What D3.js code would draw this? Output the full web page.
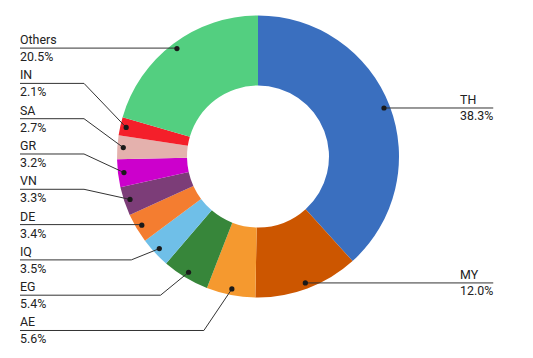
<!DOCTYPE html>
<html>
<head>
<meta charset="utf-8">
<script src="https://cdn.jsdelivr.net/npm/d3@7"></script>
<style>
  html, body { margin: 0; padding: 0; background: #fff; }
  svg { display: block; }
  text { font-family: Roboto, "Noto Sans", sans-serif; font-size: 12.4px; fill: #222; }
</style>
</head>
<body>
<svg id="chart" width="533" height="358"></svg>
<script>
// ---- data ----
const categories = ["TH", "MY", "AE", "EG", "IQ", "DE", "VN", "GR", "SA", "IN", "Others"];
const shares     = [38.3, 12.0, 5.6, 5.4, 3.5, 3.4, 3.3, 3.2, 2.7, 2.1, 20.5];
const valueLabels = ["38.3%", "12.0%", "5.6%", "5.4%", "3.5%", "3.4%", "3.3%", "3.2%", "2.7%", "2.1%", "20.5%"];
const colors = ["#3a6fbf", "#cc5600", "#f5992f", "#37863a", "#6fbfe8", "#f47d30",
                "#7c3d78", "#cc00cc", "#e4b1ad", "#f41f2a", "#53cf80"];

// ---- layout ----
const W = 533, H = 358;
const cx = 258, cy = 156.5, R = 141, r0 = 71, dotR = 135;
const gap = 35.3;

const svg = d3.select("#chart");
const g = svg.append("g").attr("transform", `translate(${cx},${cy})`);

const data = categories.map((c, i) => ({ name: c, value: shares[i], label: valueLabels[i], color: colors[i] }));
const pie = d3.pie().value(d => d.value).sort(null);
const arcs = pie(data);
const arc = d3.arc().innerRadius(r0).outerRadius(R);

g.selectAll("path.slice").data(arcs).join("path")
  .attr("class", "slice")
  .attr("d", arc)
  .attr("fill", d => d.data.color);

// dot positions
arcs.forEach(a => {
  const m = (a.startAngle + a.endAngle) / 2;
  a.dx = cx + Math.sin(m) * dotR;
  a.dy = cy - Math.cos(m) * dotR;
  a.side = Math.sin(m) >= 0 ? "right" : "left";
  a.ly = a.dy;
});

// label de-overlap per side (cluster merging)
function relax(items) {
  items.sort((a, b) => a.dy - b.dy);
  let clusters = items.map(it => ({ items: [it] }));
  const place = c => {
    const mean = d3.mean(c.items, d => d.dy);
    c.top = mean - (c.items.length - 1) * gap / 2 - (c.items.length > 1 ? 3 : 0);
  };
  clusters.forEach(place);
  let merged = true;
  while (merged) {
    merged = false;
    for (let i = 0; i < clusters.length - 1; i++) {
      const a = clusters[i], b = clusters[i + 1];
      if (a.top + (a.items.length - 1) * gap + gap > b.top) {
        const c = { items: a.items.concat(b.items) };
        place(c);
        clusters.splice(i, 2, c);
        merged = true;
        break;
      }
    }
  }
  clusters.forEach(c => c.items.forEach((it, k) => it.ly = c.top + k * gap));
}
relax(arcs.filter(a => a.side === "left"));
relax(arcs.filter(a => a.side === "right"));

const leftX = 20, rightX = 460, minElbow = 84;

const lab = svg.append("g");
arcs.forEach(a => {
  const grp = lab.append("g");
  if (a.side === "left") {
    let ex = (a.ly < a.dy - 10) ? minElbow : a.dx - 28;
    if (Math.abs(a.ly - a.dy) < 2) ex = a.dx;
    grp.append("path")
      .attr("d", `M${leftX},${a.ly}H${ex}L${a.dx},${a.dy}`)
      .attr("fill", "none").attr("stroke", "#333").attr("stroke-width", 1);
    grp.append("text").attr("x", leftX).attr("y", a.ly - 4).text(a.data.name);
    grp.append("text").attr("x", leftX).attr("y", a.ly + 13).text(a.data.label);
  } else {
    const t1 = grp.append("text").attr("x", rightX).attr("y", a.ly - 4).text(a.data.name);
    const t2 = grp.append("text").attr("x", rightX).attr("y", a.ly + 12).text(a.data.label);
    const wmax = Math.max(t1.node().getComputedTextLength(), t2.node().getComputedTextLength());
    grp.insert("path", "text")
      .attr("d", `M${a.dx},${a.dy}L${rightX - 8},${a.ly}H${rightX + wmax}`)
      .attr("fill", "none").attr("stroke", "#333").attr("stroke-width", 1);
  }
  grp.append("circle").attr("cx", a.dx).attr("cy", a.dy).attr("r", 2.6).attr("fill", "#1a1a1a");
});
</script>
</body>
</html>
